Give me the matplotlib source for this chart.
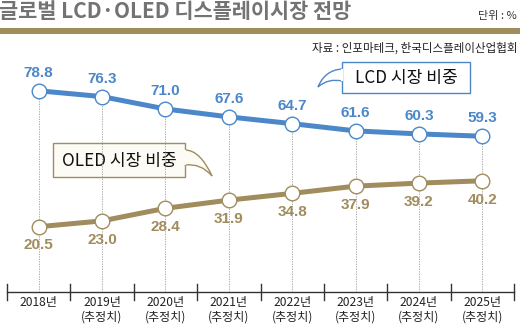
import matplotlib
matplotlib.use("Agg")
import matplotlib.pyplot as plt
from matplotlib.path import Path
from matplotlib.patches import PathPatch, FancyBboxPatch

plt.rcParams['font.family'] = ['Noto Sans CJK KR', 'DejaVu Sans']

years = ["2018년", "2019년\n(추정치)", "2020년\n(추정치)", "2021년\n(추정치)",
         "2022년\n(추정치)", "2023년\n(추정치)", "2024년\n(추정치)", "2025년\n(추정치)"]
lcd = [78.8, 76.3, 71.0, 67.6, 64.7, 61.6, 60.3, 59.3]
oled = [20.5, 23.0, 28.4, 31.9, 34.8, 37.9, 39.2, 40.2]

BLUE = "#4b87c9"
GOLD = "#a08c5c"
W, H = 520, 328

fig = plt.figure(figsize=(W/100, H/100), dpi=100)
fig.patch.set_facecolor("white")

# overlay for header / decorations in pixel coords
ov = fig.add_axes([0, 0, 1, 1])
ov.set_xlim(0, W); ov.set_ylim(H, 0); ov.axis("off")

ov.text(-1, 12, "글로벌 LCD·OLED 디스플레이시장 전망", fontsize=15, fontweight="bold",
        color="#737373", ha="left", va="center")
ov.text(517, 16, "단위 : %", fontsize=8, color="#333333", ha="right", va="center")
ov.add_patch(plt.Rectangle((0, 28), W, 6, color=GOLD, lw=0))
ov.text(517, 48, "자료 : 인포마테크, 한국디스플레이산업협회", fontsize=8.3, color="#222222",
        ha="right", va="center")

# chart axes
ax = fig.add_axes([7/W, (H-292)/H, 507/W, (292-60)/H])
x = list(range(len(years)))
ax.set_xlim(-0.5, len(years)-0.5)
ax.set_ylim(-7.5, 92)
ax.axis("off")
ax.patch.set_alpha(0)

for i in x:
    ax.plot([i, i], [-7.5, lcd[i]], color="#9a9a9a", lw=0.6, ls=(0, (1.5, 1.5)), zorder=1)

ax.plot(x, lcd, color=BLUE, lw=3.6, zorder=2, solid_capstyle="butt")
ax.plot(x, oled, color=GOLD, lw=3.6, zorder=2, solid_capstyle="butt")
ax.plot(x, lcd, ls="none", marker="o", ms=10.5, mfc="white", mec=BLUE, mew=1.0, zorder=3)
ax.plot(x, oled, ls="none", marker="o", ms=10.5, mfc="white", mec=GOLD, mew=1.0, zorder=3)

for i in x:
    ax.annotate(f"{lcd[i]:.1f}", (i, lcd[i]), xytext=(0, 13), textcoords="offset points",
                ha="center", va="center", fontsize=11, fontweight="bold", color=BLUE,
                family=["Liberation Sans"])
    ax.annotate(f"{oled[i]:.1f}", (i, oled[i]), xytext=(0, -13.5), textcoords="offset points",
                ha="center", va="center", fontsize=11, fontweight="bold", color=GOLD,
                family=["Liberation Sans"])

# x axis line with ticks
ov.plot([7, 514], [292, 292], color="#333333", lw=1.0)
for i in range(len(years)+1):
    bx = 7 + i*507/len(years)
    ov.plot([bx, bx], [284, 300], color="#333333", lw=1.0)
for i, lab in enumerate(years):
    cx = 7 + (i+0.5)*507/len(years)
    ov.text(cx, 296, lab, ha="center", va="top", fontsize=8.7, color="#222222",
            linespacing=1.2)

# callout boxes
def callout(x0, y0, x1, y1, label, ec, fc, tail):
    box = FancyBboxPatch((x0, y0), x1-x0, y1-y0, boxstyle="square,pad=0",
                         fc=fc, ec=ec, lw=1.0, zorder=4)
    ov.add_patch(box)
    verts, codes = tail
    ov.add_patch(PathPatch(Path(verts, codes), fc=fc, ec=ec, lw=1.0, zorder=5))
    ov.text((x0+x1)/2, (y0+y1)/2+1, label, ha="center", va="center", fontsize=12.3,
            fontweight="medium", color="#111111", zorder=6)

C = Path.CURVE3
oled_tail = ([(185, 150), (200, 150), (212, 176), (201, 163), (185, 165), (185, 150)],
             [Path.MOVETO, C, C, C, C, Path.LINETO])
callout(53, 143, 185, 177, "OLED 시장 비중", GOLD, "#fcfbf6", oled_tail)
ov.plot([185, 185], [151, 164], color="#fcfbf6", lw=1.6, zorder=5.5)

lcd_tail = ([(342, 69), (325, 70), (318, 87), (328, 78), (342, 81), (342, 69)],
            [Path.MOVETO, C, C, C, C, Path.LINETO])
callout(342, 62, 470, 93, "LCD 시장 비중", BLUE, "#ffffff", lcd_tail)
ov.plot([342, 342], [70, 80], color="#ffffff", lw=1.6, zorder=5.5)

fig.savefig("out.png", dpi=100)
